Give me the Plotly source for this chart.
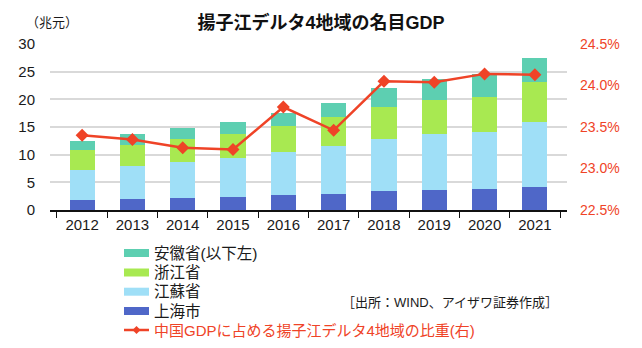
import plotly.graph_objects as go

years = ["2012", "2013", "2014", "2015", "2016", "2017", "2018", "2019", "2020", "2021"]

# Nominal GDP by region (trillion yuan)
shanghai = [1.85, 2.00, 2.17, 2.35, 2.71, 2.90, 3.44, 3.62, 3.80, 4.16]
jiangsu = [5.40, 5.96, 6.52, 7.06, 7.79, 8.68, 9.41, 10.14, 10.32, 11.77]
zhejiang = [3.60, 3.80, 4.21, 4.35, 4.70, 5.25, 5.79, 6.14, 6.33, 7.24]
anhui = [1.63, 2.00, 1.94, 2.17, 2.36, 2.54, 3.44, 3.80, 4.05, 4.33]

# Share of national GDP (%)
share = [23.40, 23.35, 23.25, 23.23, 23.74, 23.46, 24.05, 24.04, 24.14, 24.13]

left_ticks = [0, 5, 10, 15, 20, 25, 30]
right_ticks = [22.5, 23.0, 23.5, 24.0, 24.5]

series_names = ["上海市", "江蘇省", "浙江省", "安徽省(以下左)"]
line_name = "中国GDPに占める揚子江デルタ4地域の比重(右)"

RED = "#ef4327"
COLORS = ["#4f67c8", "#9fdff7", "#a8e951", "#5dcfb1"]
FONT = "Liberation Sans, Arial, Noto Sans CJK JP, sans-serif"

W, H = 642, 348
ML, MR, MT, MB = 50, 75, 44, 138
PW, PH = W - ML - MR, H - MT - MB


def px_x(x):
    return (x - ML) / PW


def px_y(y):
    return (H - MB - y) / PH


fig = go.Figure()

for name, vals, color in zip(series_names, [shanghai, jiangsu, zhejiang, anhui], COLORS):
    fig.add_trace(go.Bar(
        x=years, y=vals, name=name, marker_color=color,
        marker_line_width=0, width=0.5,
    ))

fig.add_trace(go.Scatter(
    x=years, y=share, yaxis="y2", mode="lines+markers", name=line_name,
    line=dict(color=RED, width=2.5),
    marker=dict(symbol="diamond", size=10, color=RED),
))

fig.update_layout(
    width=W, height=H,
    margin=dict(l=ML, r=MR, t=MT, b=MB),
    barmode="stack", showlegend=False,
    plot_bgcolor="white", paper_bgcolor="white",
    font=dict(family=FONT, size=15, color="#1a1a1a"),
    title=dict(
        text="<b>揚子江デルタ4地域の名目GDP</b>",
        x=0.5, xanchor="center", y=0.935, yanchor="middle",
        font=dict(size=18, color="#111111"),
    ),
    xaxis=dict(
        type="category", showgrid=False,
        showline=True, linecolor="#111111", linewidth=1.5,
        ticks="outside", tickson="boundaries", ticklen=6, tickcolor="#111111",
        tickfont=dict(size=15),
    ),
    yaxis=dict(
        range=[0, 30], tickvals=left_ticks,
        showgrid=True, gridcolor="#d9d9d9", gridwidth=1.5,
        zeroline=False, showline=False, ticks="",
        ticklabelstandoff=14,
        tickfont=dict(size=15),
    ),
    yaxis2=dict(
        overlaying="y", side="right",
        range=[22.5, 24.5], tickvals=right_ticks,
        ticktext=[f"{v:.1f}%" for v in right_ticks],
        showgrid=False, zeroline=False, showline=False,
        ticklabelstandoff=12,
        tickfont=dict(size=14, color=RED),
    ),
)

# Legend drawn below the plot: swatches + labels, top entry first
sw_x0, sw_x1, text_x = 124, 149, 152
row_y = [253, 272.5, 291.7, 311]
for i, (name, color) in enumerate(zip(reversed(series_names), reversed(COLORS))):
    yc = row_y[i]
    fig.add_shape(
        type="rect", xref="paper", yref="paper",
        x0=px_x(sw_x0), x1=px_x(sw_x1), y0=px_y(yc + 4), y1=px_y(yc - 4),
        fillcolor=color, line_width=0,
    )
    fig.add_annotation(
        text=name, xref="paper", yref="paper", x=px_x(text_x), y=px_y(yc),
        xanchor="left", yanchor="middle", showarrow=False,
        font=dict(size=15.5, color="#1a1a1a"),
    )

line_y = 330
fig.add_shape(
    type="line", xref="paper", yref="paper",
    x0=px_x(sw_x0), x1=px_x(sw_x1), y0=px_y(line_y), y1=px_y(line_y),
    line=dict(color=RED, width=2.5),
)
fig.add_shape(
    type="path", xref="paper", yref="paper",
    xsizemode="pixel", ysizemode="pixel",
    xanchor=px_x((sw_x0 + sw_x1) / 2), yanchor=px_y(line_y),
    path="M-4,0 L0,4 L4,0 L0,-4 Z",
    fillcolor=RED, line_width=0,
)
fig.add_annotation(
    text=line_name, xref="paper", yref="paper", x=px_x(text_x), y=px_y(line_y),
    xanchor="left", yanchor="middle", showarrow=False,
    font=dict(size=15, color=RED),
)

fig.add_annotation(
    text="（兆元）", xref="paper", yref="paper", x=px_x(52), y=px_y(23),
    xanchor="center", yanchor="middle", showarrow=False,
    font=dict(size=13, color="#1a1a1a"),
)
fig.add_annotation(
    text="［出所：WIND、アイザワ証券作成］", xref="paper", yref="paper",
    x=px_x(560), y=px_y(302), xanchor="right", yanchor="middle", showarrow=False,
    font=dict(size=13, color="#1a1a1a"),
)

fig.write_html("out.html")
